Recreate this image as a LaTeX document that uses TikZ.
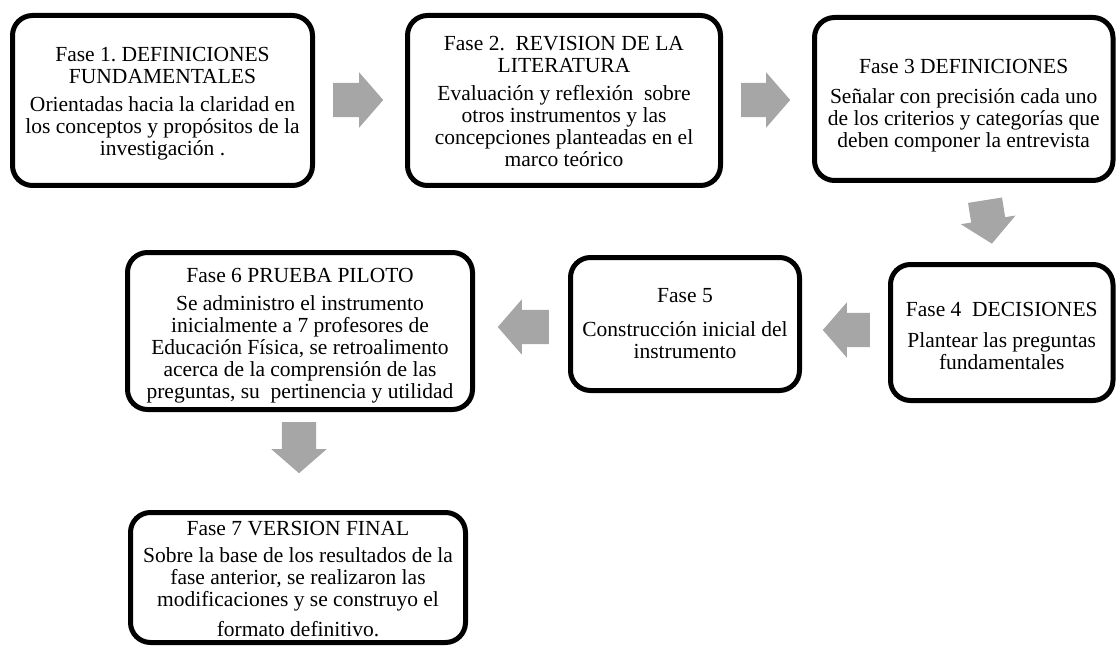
\documentclass[tikz,border=0pt]{standalone}
\usepackage{fontspec}
\setmainfont{Liberation Serif}
\usetikzlibrary{shapes.arrows}
\definecolor{arrowgray}{RGB}{166,166,166}
\tikzset{
  phase/.style={draw=black, line width=5pt, rounded corners=20pt, fill=white},
  phasetext/.style={align=center, inner sep=0pt, font=\fontsize{21.5}{22}\selectfont},
  blockarrow/.style={single arrow, fill=arrowgray, draw=none, inner sep=0pt,
    inner ysep=17pt, minimum width=55pt, single arrow head extend=10.5pt,
    single arrow tip angle=98, anchor=tail}
}
\begin{document}
\frenchspacing
\begin{tikzpicture}[x=1pt, y=-1pt]
\useasboundingbox (0,0) rectangle (1117,650);

\node[phase, minimum width=300pt, minimum height=170pt] (b1) at (162.5,100.5) {};
\node[phasetext] (t1) at (162.5,104)
 {Fase 1. DEFINICIONES\\FUNDAMENTALES\\[6pt]Orientadas hacia la claridad en\\los conceptos y propósitos de la\\investigación .};
\node[phase, minimum width=313pt, minimum height=170pt] (b2) at (564,100.5) {};
\node[phasetext] (t2) at (564,101)
 {Fase 2.~ REVISION DE LA\\LITERATURA\\[6pt]Evaluación y reflexión~ sobre\\otros instrumentos y las\\concepciones planteadas en el\\marco teórico};
\node[phase, minimum width=298.5pt, minimum height=163pt] (b3) at (963.75,99) {};
\node[phasetext] (t3) at (963.75,106)
 {Fase 3 DEFINICIONES\\[8pt]Señalar con precisión cada uno\\de los criterios y categorías que\\deben componer la entrevista};
\node[phase, minimum width=222.5pt, minimum height=136pt] (b4) at (1001.75,332.5) {};
\node[phasetext] (t4) at (1001.75,336)
 {Fase 4~ DECISIONES\\[9pt]Plantear las preguntas\\fundamentales};
\node[phase, minimum width=229pt, minimum height=133pt] (b5) at (685,324) {};
\node[phasetext] (t5) at (685,324)
 {Fase 5\\[12pt]Construcción inicial del\\instrumento};
\node[phase, minimum width=345pt, minimum height=157pt] (b6) at (300,331) {};
\node[phasetext] (t6) at (300,336)
 {Fase 6 PRUEBA PILOTO\\[6pt]Se administro el instrumento\\inicialmente a 7 profesores de\\Educación Física, se retroalimento\\acerca de la comprensión de las\\preguntas, su~ pertinencia y utilidad};
\node[phase, minimum width=335pt, minimum height=130pt] (b7) at (298,577.5) {};
\node[phasetext] (t7) at (298,579)
 {Fase 7 VERSION FINAL\\[5pt]Sobre la base de los resultados de la\\fase anterior, se realizaron las\\modificaciones y se construyo el\\[8pt]formato definitivo.};

\node[blockarrow, minimum height=50pt] (a1) at (333,100) {};
\node[blockarrow, minimum height=49pt] (a2) at (741,100) {};
\node[blockarrow, minimum height=44pt, rotate=-81] (a3) at (985,200) {};
\node[blockarrow, minimum height=47pt, rotate=180] (a4) at (870,330) {};
\node[blockarrow, minimum height=51pt, rotate=180] (a5) at (549,327) {};
\node[blockarrow, minimum height=51pt, rotate=-90] (a6) at (299,422) {};
\end{tikzpicture}
\end{document}
